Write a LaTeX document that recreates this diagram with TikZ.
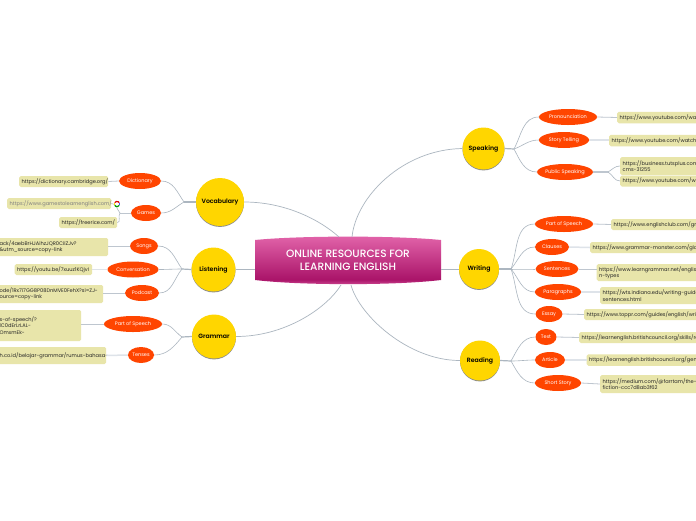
\documentclass[tikz,border=0pt]{standalone}
\usepackage{fontspec}
\setmainfont{Poppins}
\newfontfamily\pmed{Poppins Medium}
\newfontfamily\psemi{Poppins SemiBold}
\usetikzlibrary{shapes.geometric}
\definecolor{lnk}{RGB}{172,182,192}
\definecolor{stubc}{RGB}{222,227,233}
\definecolor{stubd}{RGB}{190,198,207}
\definecolor{boxc}{RGB}{232,229,170}
\definecolor{oran}{RGB}{255,69,0}
\definecolor{gold}{RGB}{255,214,0}
\definecolor{rA}{RGB}{226,100,170}
\definecolor{rB}{RGB}{170,20,105}
\definecolor{rC}{RGB}{208,78,150}
\pgfdeclareverticalshading{rootshade}{100bp}{color(0bp)=(rC);color(25bp)=(rC);color(31bp)=(rB);color(75bp)=(rA);color(100bp)=(rA)}
\tikzset{
 x=1pt,y=-1pt,
 hubc/.style={circle,fill=gold,inner sep=0pt,font=\fontsize{6.2}{8}\psemi\selectfont,text=black,
   preaction={fill=black!45,transform canvas={yshift=-0.9pt}}},
 sub/.style={ellipse,fill=oran,inner sep=0pt,minimum height=16pt,text=white,font=\fontsize{5}{6}\selectfont},
 url/.style={fill=boxc,rounded corners=1.6pt,inner xsep=2.5pt,inner ysep=0pt,anchor=west,align=left,
   text=black!85,font=\fontsize{5.1}{6.3}\selectfont},
 gurl/.style={url,text=black!50},
 curve/.style={draw=lnk,line width=0.6pt},
 stub/.style={draw=stubc,line width=1.5pt},
 stubthin/.style={draw=stubd,line width=0.8pt},
 main/.style={draw=lnk,line width=0.7pt},
 hubstub/.style={draw=lnk,line width=1.2pt},
}
\newcommand{\ub}[6]{% name, x, y centre, width, height, text
 \node[url,text width=#4pt-5pt,minimum height=#5pt] (#1) at (#2,#3) {#6};}
\begin{document}
\begin{tikzpicture}
\useasboundingbox (0,0) rectangle (696,520);
\clip (0,0) rectangle (696,520);
\fill[white] (0,0) rectangle (696,520);

% main topics
\node[hubc,minimum size=48pt] (voc) at (220,202) {Vocabulary};
\node[hubc,minimum size=44pt] (lis) at (213.5,269.5) {Listening};
\node[hubc,minimum size=44pt] (gra) at (214,336.5) {Grammar};
\node[hubc,minimum size=42pt] (spe) at (483.5,148.5) {Speaking};
\node[hubc,minimum size=40pt] (wri) at (479,269) {Writing};
\node[hubc,minimum size=40pt] (rea) at (480,360.5) {Reading};

% root
\shade[shading=rootshade] (255,240) .. controls (300,235.5) and (396,235.5) .. (441,240)
  -- (441,280) .. controls (396,285.5) and (300,285.5) .. (255,280) -- cycle;
\node[minimum width=186pt,minimum height=47pt,inner sep=0pt,align=center,text=white,
  font=\fontsize{10.6}{12.4}\pmed\selectfont] (root) at (348,260.5) {ONLINE RESOURCES FOR\\LEARNING ENGLISH};

\coordinate (rNW) at (339,237);
\coordinate (rNE) at (352,237);
\coordinate (rSW) at (341,285);
\coordinate (rSE) at (351,285);
\draw[main] (voc.east) .. controls +(40,0) and +(-20,-18) .. (rNW);
\draw[main] (spe.west) .. controls +(-60,1) and +(4,-40) .. (rNE);
\draw[main] (gra.east) .. controls +(48,0) and +(-15,24) .. (rSW);
\draw[main] (rea.west) .. controls +(-52,0) and +(8,30) .. (rSE);
\draw[main] (lis.east) -- (lis.east -| root.west);
\draw[main] (wri.west) -- (wri.west -| root.east);

% hubs
\coordinate (hs) at (514,149);
\coordinate (hw) at (511,269);
\coordinate (hr) at (511,361);
\coordinate (hv) at (184,202);
\coordinate (hl) at (182,269);
\coordinate (hg) at (182,337);
\draw[hubstub] (spe.east) -- (hs);
\draw[hubstub] (wri.east) -- (hw);
\draw[hubstub] (rea.east) -- (hr);
\draw[hubstub] (voc.west) -- (hv);
\draw[hubstub] (lis.west) -- (hl);
\draw[hubstub] (gra.west) -- (hg);

% sub topics
\node[sub,minimum width=58pt] (s1) at (568,117) {Pronounciation};
\node[sub,minimum width=50pt] (s2) at (564,140) {Story Telling};
\node[sub,minimum width=52pt] (s3) at (565,172) {Public Speaking};
\node[sub,minimum width=58pt] (w1) at (564,224) {Part of Speech};
\node[sub,minimum width=34pt] (w2) at (552,247) {Clauses};
\node[sub,minimum width=43pt] (w3) at (557,269) {Sentences};
\node[sub,minimum width=46pt] (w4) at (558,292) {Paragraphs};
\node[sub,minimum width=27pt] (w5) at (549,314) {Essay};
\node[sub,minimum width=21pt] (r1) at (546,337) {Text};
\node[sub,minimum width=30pt] (r2) at (550,360) {Article};
\node[sub,minimum width=46pt] (r3) at (558,383) {Short Story};
\node[sub,minimum width=42pt] (v1) at (140,181) {Dictionary};
\node[sub,minimum width=30pt] (v2) at (146,213) {Games};
\node[sub,minimum width=28pt] (l1) at (144,246) {Songs};
\node[sub,minimum width=51pt] (l2) at (133,269.5) {Conversation};
\node[sub,minimum width=34pt] (l3) at (142,293) {Podcast};
\node[sub,minimum width=58pt] (g1) at (133,324) {Part of Speech};
\node[sub,minimum width=26pt] (g2) at (141,355) {Tenses};

% hub -> sub curves
\foreach \a/\o in {s1/62,s2/20,s3/-62}{\draw[curve] (hs) to[out=\o,in=180] (\a.west);}
\foreach \a/\o in {w1/70,w2/50,w3/0,w4/-50,w5/-70}{\draw[curve] (hw) to[out=\o,in=180] (\a.west);}
\foreach \a/\o in {r1/60,r2/0,r3/-60}{\draw[curve] (hr) to[out=\o,in=180] (\a.west);}
\foreach \a/\o in {v1/125,v2/-150}{\draw[curve] (hv) to[out=\o,in=0] (\a.east);}
\foreach \a/\o in {l1/125,l2/180,l3/-130}{\draw[curve] (hl) to[out=\o,in=0] (\a.east);}
\foreach \a/\o in {g1/145,g2/-130}{\draw[curve] (hg) to[out=\o,in=0] (\a.east);}

% url boxes
\ub{bs1}{617}{117.5}{90}{11.5}{\mbox{https://www.youtube.com/watch?}}
\ub{bs2}{609}{140.5}{100}{11.5}{\mbox{https://www.youtube.com/watch?}}
\ub{bs3}{620}{166}{90}{18}{\mbox{https://business.tutsplus.com/}\\\mbox{cms-31255}}
\ub{bs4}{620}{181}{90}{11}{\mbox{https://www.youtube.com/watch}}
\ub{bw1}{611}{224.5}{95}{11}{\mbox{https://www.englishclub.com/grammar}}
\ub{bw2}{590}{247.5}{115}{11}{\mbox{https://www.grammar-monster.com/glossary}}
\ub{bw3}{596.5}{272.5}{110}{17}{\mbox{https://www.learngrammar.net/english-}\\\mbox{n-types}}
\ub{bw4}{600}{295.5}{105}{17}{\mbox{https://wts.indiana.edu/writing-guides/}\\\mbox{sentences.html}}
\ub{bw5}{584}{314.5}{120}{11}{\mbox{https://www.toppr.com/guides/english/writing}}
\ub{br1}{579}{337.5}{125}{11}{\mbox{https://learnenglish.britishcouncil.org/skills/reading}}
\ub{br2}{586.5}{360}{120}{11.5}{\mbox{https://learnenglish.britishcouncil.org/general}}
\ub{br3}{600}{384}{105}{18}{\mbox{https://medium.com/@farrtam/the-}\\\mbox{fiction-ccc7d8ab3f62}}

\ub{bv1}{19}{181.5}{89}{11}{\mbox{https://dictionary.cambridge.org/}}
\node[gurl,text width=99pt,minimum height=11pt] (bv2) at (7,203.5) {\mbox{https://www.gamestolearnenglish.com/}};
\ub{bv3}{59}{222.5}{58}{11}{\mbox{https://freerice.com/}}
\node[url,text width=106pt,minimum height=18pt] (bl1) at (-3,247) {\mbox{ack/4aebBrHJAihzJQR0CiIZJv?}\\\mbox{\&utm\_source=copy-link}};
\ub{bl2}{14.5}{269.5}{77.5}{11}{\mbox{https://youtu.be/7xuuz1KQjvI}}
\node[url,text width=101pt,minimum height=18pt] (bl3) at (-3,294) {\mbox{ode/1Rx7i7GG8P08DnMVE0FehX?si=ZJ-}\\\mbox{ource=copy-link}};
\node[url,text width=79pt,minimum height=31pt] (bg1) at (-3,325.5) {\mbox{s-of-speech/?}\\\mbox{lC0dErLrLAL-}\\\mbox{OmxmEk-}\\[4pt]};
\node[url,text width=104pt,minimum height=17pt] (bg2) at (-3,355.5) {\mbox{h.co.id/belajar-grammar/rumus-bahasa-}\\[4pt]};

% sub -> url links
\draw[stubthin] (s1.east) -- (bs1.west);
\draw[stub] (s2.east) -- (bs2.west |- s2.east);
\coordinate (hs3) at (608,172);
\draw[stub,draw=stubd] (s3.east) -- (hs3);
\draw[curve] (hs3) to[out=30,in=180] (bs3.west);
\draw[curve] (hs3) to[out=-30,in=180] (bs4.west);
\draw[stubthin] (w1.east) -- (bw1.west);
\draw[stub] (w2.east) -- (bw2.west);
\draw[stubthin] (w3.east) -- (w3.east -| bw3.west);
\draw[stub] (w4.east) -- (w4.east -| bw4.west);
\draw[stubthin] (w5.east) -- (bw5.west);
\draw[stubthin] (r1.east) -- (br1.west);
\draw[stub] (r2.east) -- (br2.west);
\draw[stubthin] (r3.east) -- (br3.west);
\draw[stubthin] (v1.west) -- (bv1.east);
\coordinate (hv2) at (120,213);
\draw[stubthin] (v2.west) -- (hv2);
\draw[curve] (hv2) to[out=130,in=0] (bv2.east);
\draw[curve] (hv2) to[out=-130,in=0] (bv3.east);
\draw[stubthin] (l1.west) -- (l1.west -| bl1.east);
\draw[stub] (l2.west) -- (bl2.east);
\draw[stubthin] (l3.west) -- (l3.west -| bl3.east);
\draw[stubthin] (g1.west) -- (g1.west -| bg1.east);
\draw[stub] (g2.west) -- (bg2.east);

% google mark
\begin{scope}[line width=1.2pt]
\draw[red!85!black] (117,204)+(210:2.6) arc[start angle=210,end angle=330,radius=2.6];
\draw[blue!70] (117,204)+(330:2.6) arc[start angle=330,end angle=390,radius=2.6];
\draw[green!60!black] (117,204)+(30:2.6) arc[start angle=30,end angle=150,radius=2.6];
\draw[yellow!80!orange] (117,204)+(150:2.6) arc[start angle=150,end angle=210,radius=2.6];
\end{scope}
\end{tikzpicture}
\end{document}
